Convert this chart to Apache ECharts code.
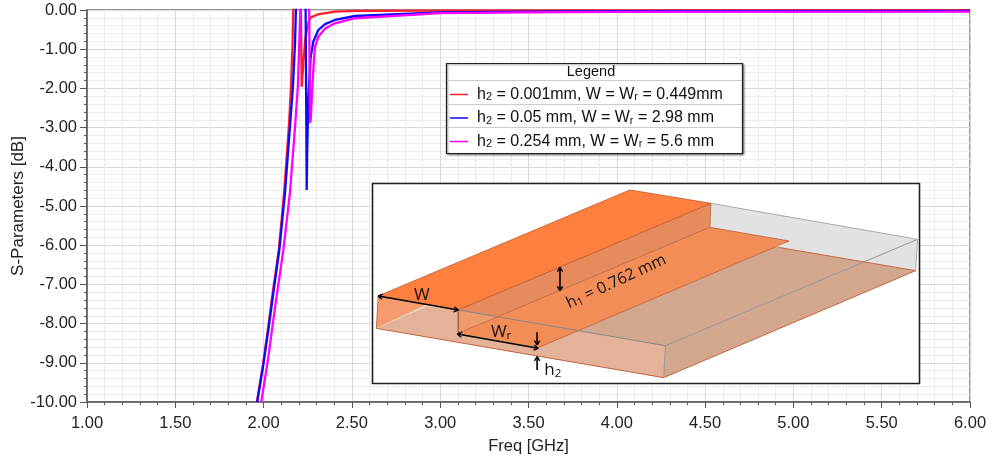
<!DOCTYPE html>
<html><head><meta charset="utf-8">
<style>html,body{margin:0;padding:0;background:#fff}#c{width:993px;height:459px}</style>
<script src="https://cdn.jsdelivr.net/npm/echarts@6/dist/echarts.min.js"></script>
</head><body><div id="c"></div>
<script>
const xTickStep = 0.5, yTickStep = 1;
const seriesNames = ['h2 = 0.001mm, W = Wr = 0.449mm','h2 = 0.05 mm, W = Wr = 2.98 mm','h2 = 0.254 mm, W = Wr = 5.6 mm'];
const seriesColors = ['#ff1f2a','#0a0aff','#ff00ff'];
const redCurve = [[1.962,-10],[1.996,-9.06],[2.024,-8.16],[2.051,-7.23],[2.086,-6.12],[2.116,-4.67],[2.143,-2.98],[2.155,-1.96],[2.164,-0.85],[2.168,0],[2.175,0.2],[2.205,0.2],[2.211,0],[2.216,-1.96],[2.226,-1.28],[2.237,-0.71],[2.25,-0.38],[2.263,-0.2],[2.308,-0.11],[2.404,-0.04],[2.518,-0.02],[3.0,-0.015],[4.0,-0.01],[6.0,-0.005]];
const blueCurve = [[1.964,-10],[1.998,-9.06],[2.027,-8.16],[2.055,-7.23],[2.089,-6.12],[2.121,-4.67],[2.149,-2.98],[2.166,-1.96],[2.178,-0.85],[2.183,0],[2.19,0.2],[2.232,0.2],[2.238,0],[2.244,-4.59],[2.247,-3.57],[2.254,-2.24],[2.266,-1.22],[2.281,-0.81],[2.31,-0.51],[2.348,-0.36],[2.404,-0.255],[2.518,-0.153],[3.0,-0.06],[3.5,-0.04],[4.0,-0.03],[6.0,-0.025]];
const magentaCurve = [[1.987,-10],[2.027,-8.85],[2.065,-7.58],[2.112,-6.12],[2.149,-4.67],[2.178,-2.98],[2.194,-1.96],[2.202,-0.85],[2.208,0],[2.215,0.2],[2.252,0.2],[2.258,0],[2.263,-2.88],[2.268,-2.75],[2.274,-2.12],[2.285,-1.28],[2.291,-0.94],[2.31,-0.68],[2.348,-0.47],[2.404,-0.34],[2.518,-0.21],[3.0,-0.08],[3.5,-0.06],[4.0,-0.05],[6.0,-0.04]];
const FONT = '"Liberation Sans", Arial, sans-serif';
const SERIF = '"Open Sans", "Noto Sans", sans-serif';

// illustration helpers (inset drawing only, not chart data)
const P = (zx, zy) => [360 + zx / 2.75, 170 + zy / 3];
const poly = (pts, fill, z) => ({type:'polygon', silent:true, z:z, shape:{points:pts.map(p=>P(p[0],p[1]))}, style:{fill:fill}});
const seg = (a, b, color, w, z) => ({type:'line', silent:true, z:z, shape:{x1:P(...a)[0],y1:P(...a)[1],x2:P(...b)[0],y2:P(...b)[1]}, style:{stroke:color,lineWidth:w}});
function arrow(a, b, both) {
  const A = P(...a), B = P(...b), out = [];
  out.push({type:'line', silent:true, z:19, shape:{x1:A[0],y1:A[1],x2:B[0],y2:B[1]}, style:{stroke:'#000',lineWidth:1.6}});
  const head = (T, F) => {
    const ang = Math.atan2(F[1]-T[1], F[0]-T[0]);
    [0.55,-0.55].forEach(d => out.push({type:'line', silent:true, z:19, shape:{x1:T[0],y1:T[1],x2:T[0]+5*Math.cos(ang+d),y2:T[1]+5*Math.sin(ang+d)}, style:{stroke:'#000',lineWidth:1.4}}));
  };
  head(B, A); if (both) head(A, B);
  return out;
}
const txt = (x, y, text, size, rot) => ({type:'text', silent:true, z:19, x:x, y:y, rotation:rot||0,
  style:{text:text, fill:'#111', font:size+'px '+SERIF, align:'center', verticalAlign:'middle',
    rich:{s:{fontSize:size*0.68, fontFamily:'Open Sans', verticalAlign:'bottom', padding:[7,0,0,0], fill:'#111'},
          n:{fontSize:size, fontFamily:'Open Sans', fill:'#111'}}}});

const inset = [
  {type:'rect', silent:true, z:10, shape:{x:372.5,y:183.5,width:547,height:200}, style:{fill:'#fff',stroke:'#222',lineWidth:1.6}},
  poly([[965,100],[1533,208],[1528,302],[1150,232],[1180,213],[962,172]], '#e2e2e2', 11),
  poly([[45,475],[835,623],[1528,302],[1150,232],[962,172],[270,420]], '#d3a68e', 11),
  poly([[45,475],[835,623],[840,527],[270,420],[184,408]], '#e3b298', 12),
  poly([[50,378],[184,404],[45,475]], '#f59c6e', 12),
  poly([[270,420],[965,100],[962,172],[270,490]], '#e78b5d', 13),
  poly([[270,490],[962,172],[1180,213],[490,533]], '#f28d58', 13),
  poly([[270,420],[270,490],[378,440]], '#f09b6c', 14),
  poly([[50,378],[742,60],[965,100],[270,420]], '#ff7f3f', 14),
  seg([965,100],[1533,208],'#aaa',1,15), seg([1533,208],[840,527],'#999',1,15),
  seg([270,420],[840,527],'#888',1,15), seg([840,527],[835,623],'#999',1,15), seg([1533,208],[1528,302],'#aaa',1,15),
  seg([45,475],[835,623],'#c8663f',1,15), seg([835,623],[1528,302],'#c8663f',1,15), seg([1528,302],[1150,232],'#c8663f',1,15),
  seg([50,378],[742,60],'#d06a3c',1,15), seg([742,60],[965,100],'#d06a3c',1,15), seg([270,420],[965,100],'#b85f36',1,15),
  seg([270,490],[962,172],'#c5704a',1,15), seg([962,172],[1180,213],'#c5704a',1,15), seg([1180,213],[490,533],'#c5704a',1,15),
  seg([270,420],[270,490],'#7a4a32',1,15), seg([50,378],[45,475],'#b8704a',1,15), seg([965,100],[962,172],'#b8704a',1,15),
  ...arrow([50,378],[270,420],true), ...arrow([268,492],[490,535],true), ...arrow([550,292],[550,362],true),
  ...arrow([487,487],[487,525],false), ...arrow([487,600],[487,560],false),
  txt(...P(170,375), 'W', 17), txt(...P(388,487), '{n|W}{s|r}', 17),
  txt(...P(530,600), '{n|h}{s|2}', 17), txt(...P(705,335), '{n|h}{s|1}{n| = 0.762 mm}', 16, 0.436)
];
const legendBox = [
  {type:'rect', silent:true, z:10, shape:{x:446.5,y:63.5,width:296,height:90}, style:{fill:'#fff',stroke:'#222',lineWidth:1.2,shadowColor:'rgba(0,0,0,0.45)',shadowBlur:2,shadowOffsetX:1,shadowOffsetY:1}},
  {type:'line', silent:true, z:11, shape:{x1:447,y1:80.5,x2:742,y2:80.5}, style:{stroke:'#ccc',lineWidth:1}},
  {type:'line', silent:true, z:11, shape:{x1:447,y1:104.5,x2:742,y2:104.5}, style:{stroke:'#ccc',lineWidth:1}},
  {type:'line', silent:true, z:11, shape:{x1:447,y1:127.5,x2:742,y2:127.5}, style:{stroke:'#ccc',lineWidth:1}},
  {type:'text', silent:true, z:12, x:591, y:71.5, style:{text:'Legend', fill:'#111', font:'14.5px '+FONT, align:'center', verticalAlign:'middle'}}
];
const curves = [redCurve, blueCurve, magentaCurve];
const chart = echarts.init(document.getElementById('c'), null, {renderer:'canvas'});
chart.setOption({
  animation:false,
  backgroundColor:'#fff',
  textStyle:{fontFamily:FONT},
  grid:{left:87,right:23,top:10,bottom:57,show:true,borderColor:'#777',borderWidth:1.5,backgroundColor:'transparent',outerBoundsMode:'none'},
  legend:{
    show:true, orient:'vertical', left:450, top:86.5, padding:0, itemGap:7.5, itemWidth:18, itemHeight:1.5, icon:'rect',
    z:20, selectedMode:false, data:seriesNames,
    formatter:n => n.replace(/h2/,'h{s|2}').replace(/Wr/,'W{s|r}'),
    textStyle:{fontFamily:FONT,fontSize:16,color:'#111',lineHeight:16,padding:[0,0,0,4],
      rich:{s:{fontFamily:FONT,fontSize:11,color:'#111',verticalAlign:'bottom',lineHeight:16,padding:[5,0,0,0]}}}
  },
  xAxis:{type:'value',min:1,max:6,interval:xTickStep,
    name:'Freq [GHz]',nameLocation:'middle',nameGap:36,nameMoveOverlap:false,nameTextStyle:{fontFamily:FONT,fontSize:16.5,color:'#222'},
    axisLine:{onZero:false,lineStyle:{color:'#555',width:1.5}},
    axisTick:{length:6,lineStyle:{color:'#555'}},
    minorTick:{show:true,splitNumber:5,length:3,lineStyle:{color:'#555'}},
    splitLine:{show:true,lineStyle:{color:'#d8d8d8',width:1}},
    minorSplitLine:{show:true,lineStyle:{color:'#ececec',width:1}},
    axisLabel:{color:'#222',fontSize:16.5,margin:13,formatter:v=>v.toFixed(2),fontFamily:FONT}},
  yAxis:{type:'value',min:-10,max:0,interval:yTickStep,
    name:'S-Parameters [dB]',nameLocation:'middle',nameGap:60,nameMoveOverlap:false,nameTextStyle:{fontFamily:FONT,fontSize:17,color:'#222'},
    axisLine:{onZero:false,lineStyle:{color:'#555',width:1.5}},
    axisTick:{length:7,lineStyle:{color:'#555'}},
    minorTick:{show:true,splitNumber:5,length:3,lineStyle:{color:'#555'}},
    splitLine:{show:true,lineStyle:{color:'#d8d8d8',width:1}},
    minorSplitLine:{show:true,lineStyle:{color:'#ececec',width:1}},
    axisLabel:{color:'#222',fontSize:16.5,margin:10,formatter:v=>v.toFixed(2),fontFamily:FONT}},
  series:seriesNames.map((n,i)=>({
    name:n,type:'line',data:curves[i],showSymbol:false,symbol:'none',smooth:false,clip:true,z:3+i,
    lineStyle:{color:seriesColors[i],width:2.3},itemStyle:{color:seriesColors[i]},
    emphasis:{disabled:true}
  })),
  graphic:{elements:[...legendBox,...inset]}
});
</script></body></html>
